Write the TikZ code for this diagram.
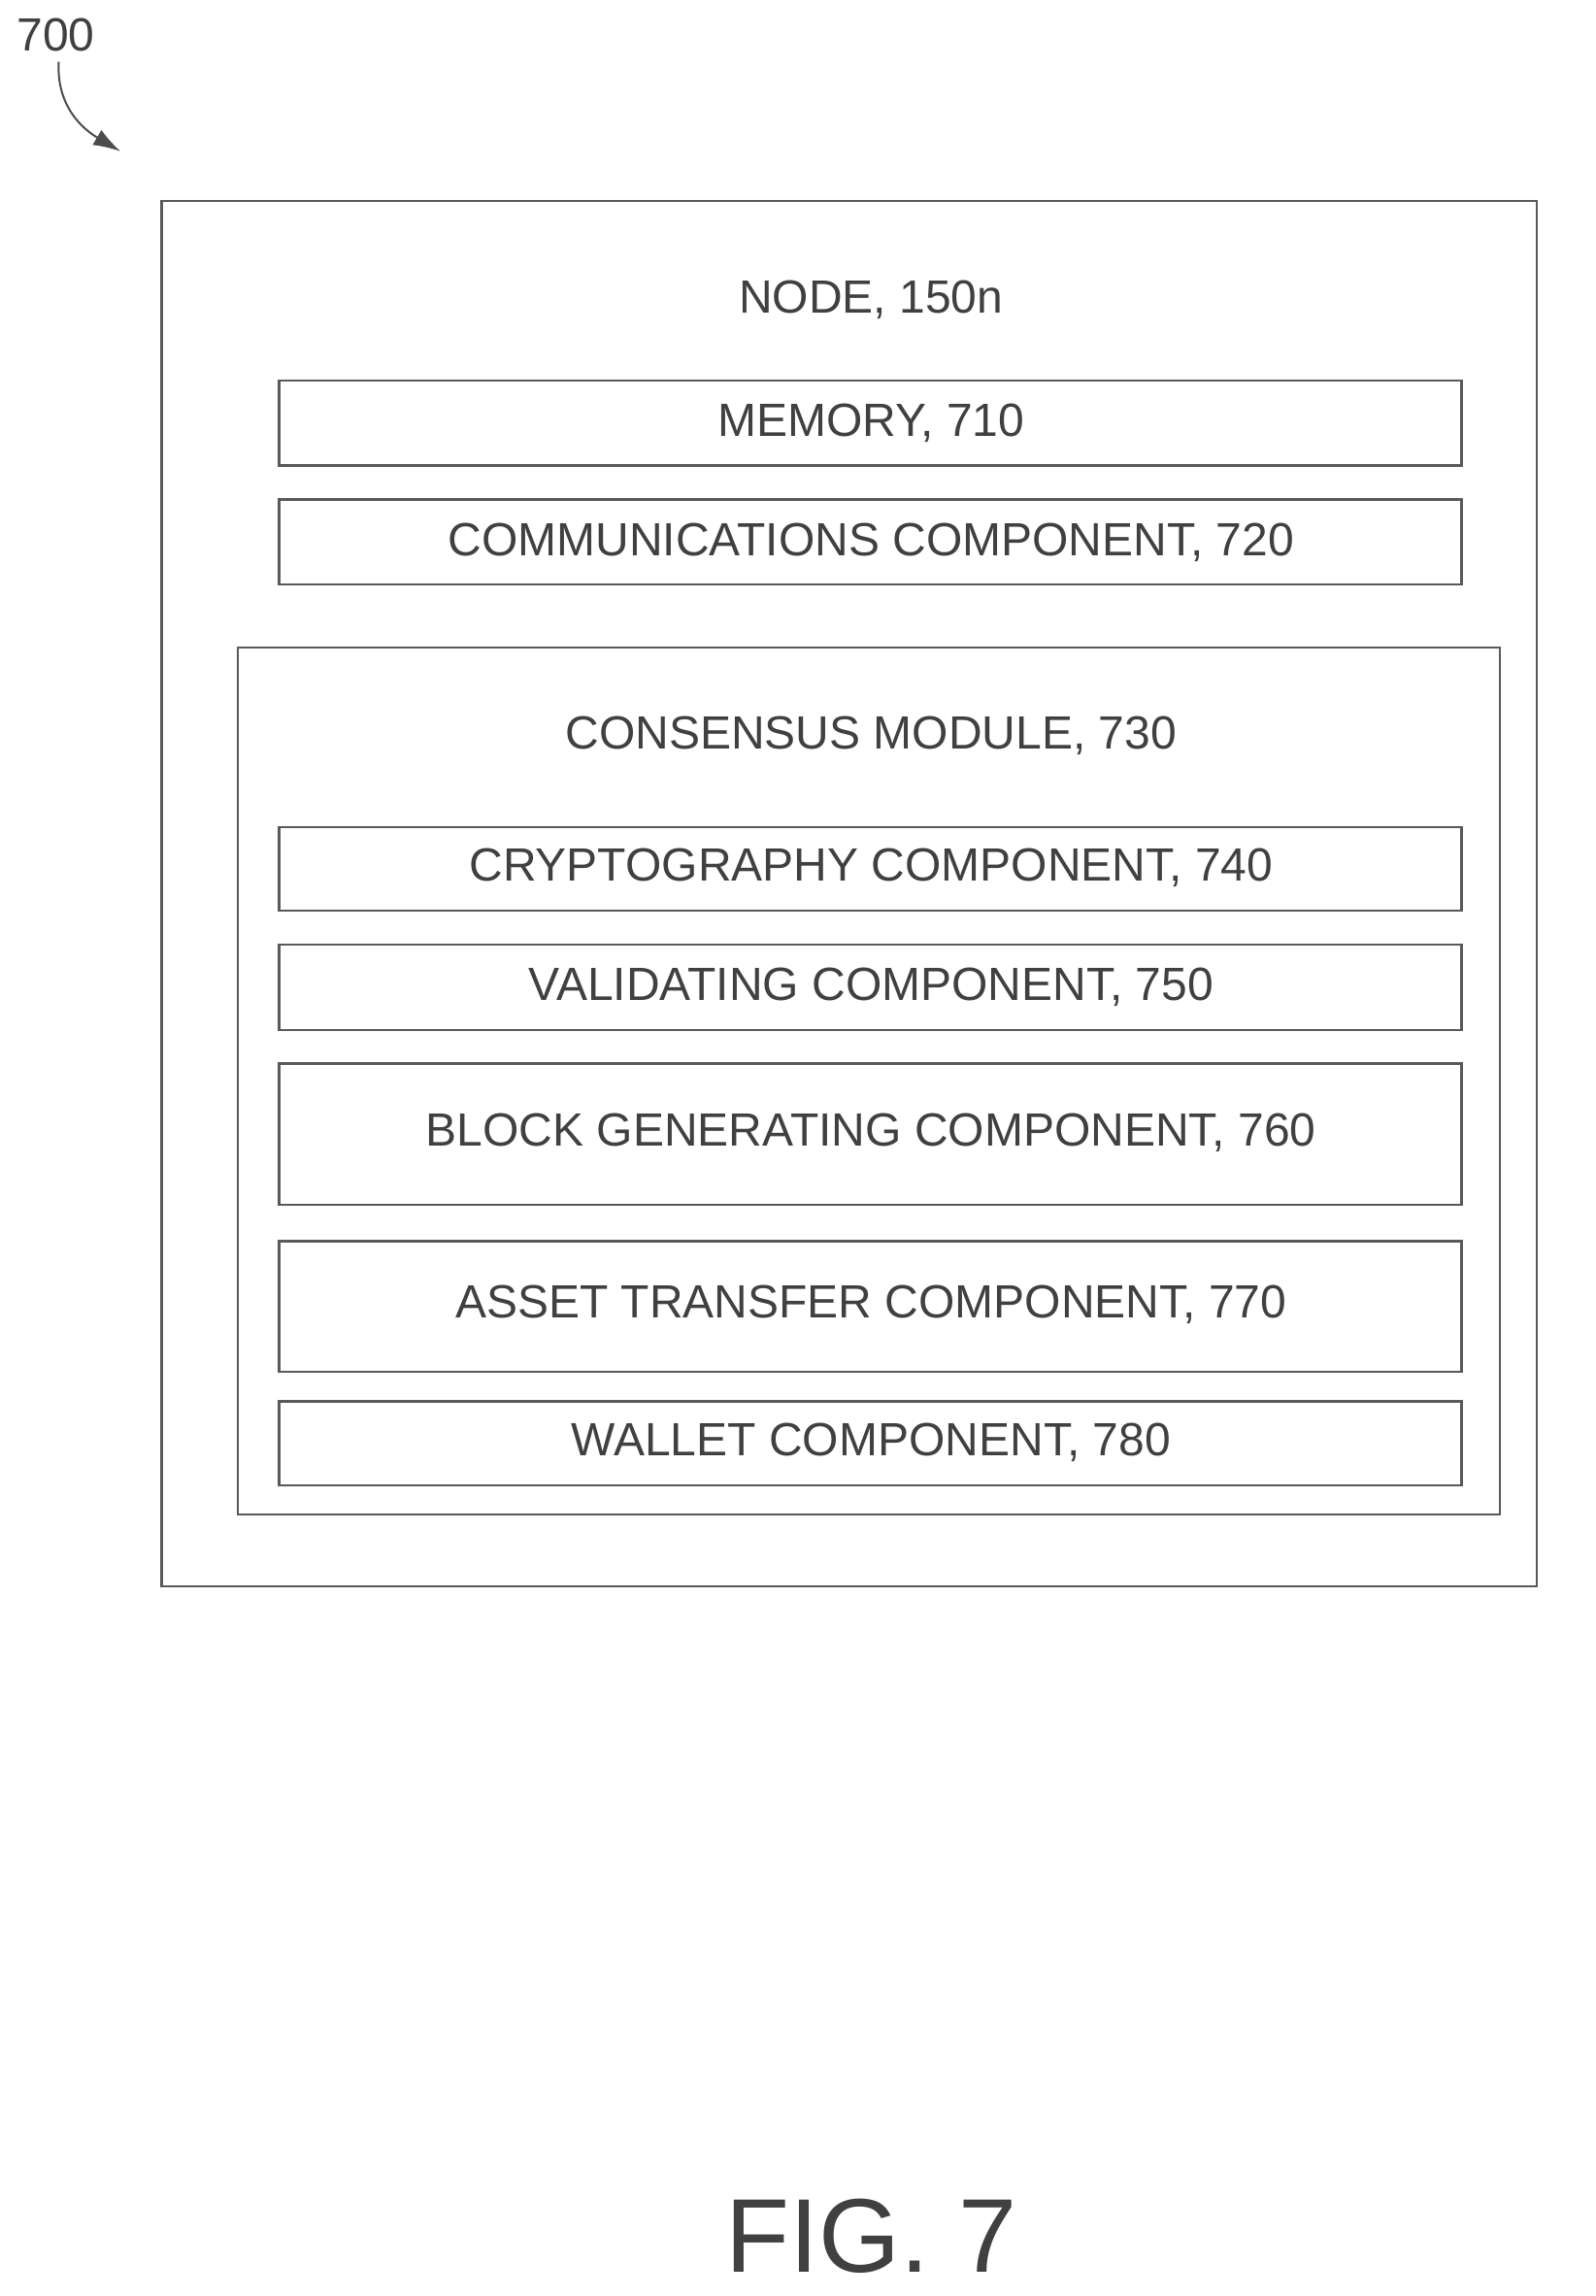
\documentclass[tikz,border=0pt]{standalone}
\usepackage{fontspec}
\setmainfont{Liberation Sans}
\usetikzlibrary{arrows.meta}
\begin{document}
\begin{tikzpicture}[x=0.7565pt,y=-0.7565pt,
  box/.style={draw=black!65,line width=1.2pt},
  lab/.style={font=\fontsize{24}{28}\selectfont,text=black!75}]
\useasboundingbox (0,0) rectangle (1086,1563);
\node[lab] (n700) at (38,24) {700};
\coordinate (a1) at (82,103);
\draw[black!70,line width=1pt,-{Latex[length=14pt,width=9pt]}] (40,42) .. controls (38,75) and (60,90) .. (a1);
\draw[box] (110,137) rectangle (1046,1080);
\node[lab] (node) at (593,204) {NODE, 150n};
\draw[box] (190,259) rectangle (995,317); \node[lab] (m) at (593,288) {MEMORY, 710};
\draw[box] (190,340) rectangle (995,398); \node[lab] (c) at (593,369) {COMMUNICATIONS COMPONENT, 720};
\draw[box] (162,441) rectangle (1021,1031);
\node[lab] (cm) at (593,501) {CONSENSUS MODULE, 730};
\draw[box] (190,563) rectangle (995,620); \node[lab] (cr) at (593,591) {CRYPTOGRAPHY COMPONENT, 740};
\draw[box] (190,643) rectangle (995,701); \node[lab] (v) at (593,672) {VALIDATING COMPONENT, 750};
\draw[box] (190,724) rectangle (995,820); \node[lab] (b) at (593,771) {BLOCK GENERATING COMPONENT, 760};
\draw[box] (190,845) rectangle (995,934); \node[lab] (at) at (593,888) {ASSET TRANSFER COMPONENT, 770};
\draw[box] (190,954) rectangle (995,1011); \node[lab] (w) at (593,982) {WALLET COMPONENT, 780};
\node[font=\fontsize{54}{60}\selectfont,text=black!75] (fig) at (593,1522) {FIG. 7};
\end{tikzpicture}
\end{document}
